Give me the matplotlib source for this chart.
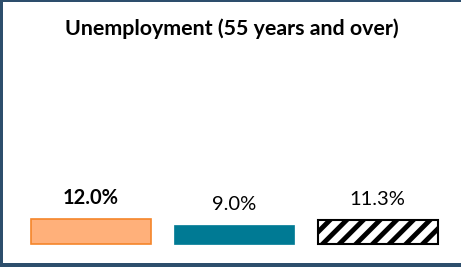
import matplotlib
matplotlib.use("Agg")
import matplotlib.pyplot as plt
from matplotlib.patches import Rectangle

title = "Unemployment (55 years and over)"
categories = ["A", "B", "C"]
values = [12.0, 9.0, 11.3]
labels = ["12.0%", "9.0%", "11.3%"]
label_bold = [True, False, False]

plt.rcParams['hatch.linewidth'] = 3.5
plt.rcParams['font.family'] = ['Lato', 'DejaVu Sans']

W, H = 461, 267
fig = plt.figure(figsize=(W / 100, H / 100), dpi=100)
fig.patch.set_facecolor('white')

ax = fig.add_axes([0, 0, 1, 1])
ax.set_axis_off()

px_per_x = 143.25
px_per_y = 2.1
bottom_px = 23
ax.set_xlim(-91 / px_per_x, 2 + (W - 377.5) / px_per_x)
ax.set_ylim(-bottom_px / px_per_y, (H - bottom_px) / px_per_y)

x = list(range(len(categories)))
bw = 120 / px_per_x
styles = [
    dict(facecolor='#FFB07A', edgecolor='#F5852A', linewidth=1.2),
    dict(facecolor='#007A94', edgecolor='#007A94', linewidth=0.5),
    dict(facecolor='white', edgecolor='black', linewidth=1.5, hatch='//'),
]
for xi, v, st in zip(x, values, styles):
    ax.bar(xi, v, width=bw, **st)

for xi, v, lab, b in zip(x, values, labels, label_bold):
    ax.annotate(lab, (xi, v), xytext=(0, 10.8), textcoords='offset points',
                ha='center', va='baseline', fontsize=14.5,
                fontweight='bold' if b else 'normal', color='black')

fig.text(231.5 / W, 1 - 35 / H, title, ha='center', va='baseline',
         fontsize=15.4, fontweight='bold', color='black')

border = '#2D4E6C'
fig.patches.append(Rectangle((0, 0), 3 / W, 1, transform=fig.transFigure,
                             facecolor=border, edgecolor='none', zorder=10))
fig.patches.append(Rectangle((0, 1 - 2 / H), 1, 2 / H, transform=fig.transFigure,
                             facecolor=border, edgecolor='none', zorder=10))
fig.patches.append(Rectangle((0, 0), 1, 4 / H, transform=fig.transFigure,
                             facecolor=border, edgecolor='none', zorder=10))

fig.savefig('out.png', dpi=100)
